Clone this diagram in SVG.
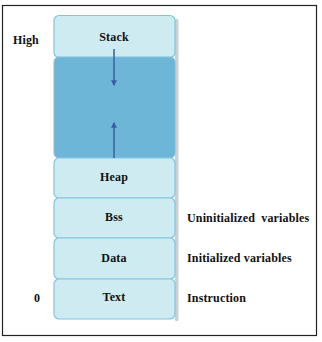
<svg xmlns="http://www.w3.org/2000/svg" width="322" height="342" viewBox="0 0 322 342">
  <style>
    .seg { fill: #cdebf0; stroke: #80c5e3; stroke-width: 1.2; }
    .free { fill: #6db6d8; stroke: #7cc0df; stroke-width: 1; }
    .shadow { fill: #cfcfcf; }
    .lbl { font-family: "Liberation Serif", "Times New Roman", serif; font-weight: bold; font-size: 12px; fill: #111; letter-spacing: 0.15px; }
    .mid { text-anchor: middle; }
    .arrow { stroke: #3b5ea3; stroke-width: 1.5; fill: none; }
  </style>
  <defs>
    <marker id="head" viewBox="0 0 10 10" refX="8" refY="5" markerWidth="4" markerHeight="4" orient="auto">
      <path d="M0,0 L10,5 L0,10 z" fill="#3b5ea3"/>
    </marker>
  </defs>
  <rect x="2.5" y="5.5" width="314" height="330" fill="#fff" stroke="#222" stroke-width="1.2"/>

  <!-- drop shadow along the right edge of the column -->
  <g id="shadows">
    <rect class="shadow" x="175" y="19" width="3.5" height="302" rx="1.5"/>
  </g>

  <g id="stack">
    <rect class="seg" x="54" y="15.5" width="121" height="42" rx="5"/>
    <text class="lbl mid" x="114" y="41">Stack</text>
  </g>
  <g id="free">
    <rect class="free" x="54" y="57" width="121" height="101" rx="5"/>
  </g>
  <g id="heap">
    <rect class="seg" x="54" y="158" width="121" height="40" rx="5"/>
    <text class="lbl mid" x="114" y="181">Heap</text>
  </g>
  <g id="bss">
    <rect class="seg" x="54" y="198" width="121" height="40" rx="5"/>
    <text class="lbl mid" x="114" y="221">Bss</text>
  </g>
  <g id="data">
    <rect class="seg" x="54" y="238" width="121" height="41" rx="5"/>
    <text class="lbl mid" x="114" y="262">Data</text>
  </g>
  <g id="text">
    <rect class="seg" x="54" y="279" width="121" height="40" rx="5"/>
    <text class="lbl mid" x="114" y="301">Text</text>
  </g>

  <g id="connectors">
    <line class="arrow" x1="114" y1="49" x2="114" y2="85" marker-end="url(#head)"/>
    <line class="arrow" x1="114" y1="158" x2="114" y2="123" marker-end="url(#head)"/>
  </g>

  <g id="labels">
    <text class="lbl" x="13" y="44">High</text>
    <text class="lbl" x="34" y="302">0</text>
    <text class="lbl" x="187" y="222" xml:space="preserve">Uninitialized  variables</text>
    <text class="lbl" x="187" y="262">Initialized variables</text>
    <text class="lbl" x="187" y="302">Instruction</text>
  </g>
</svg>
